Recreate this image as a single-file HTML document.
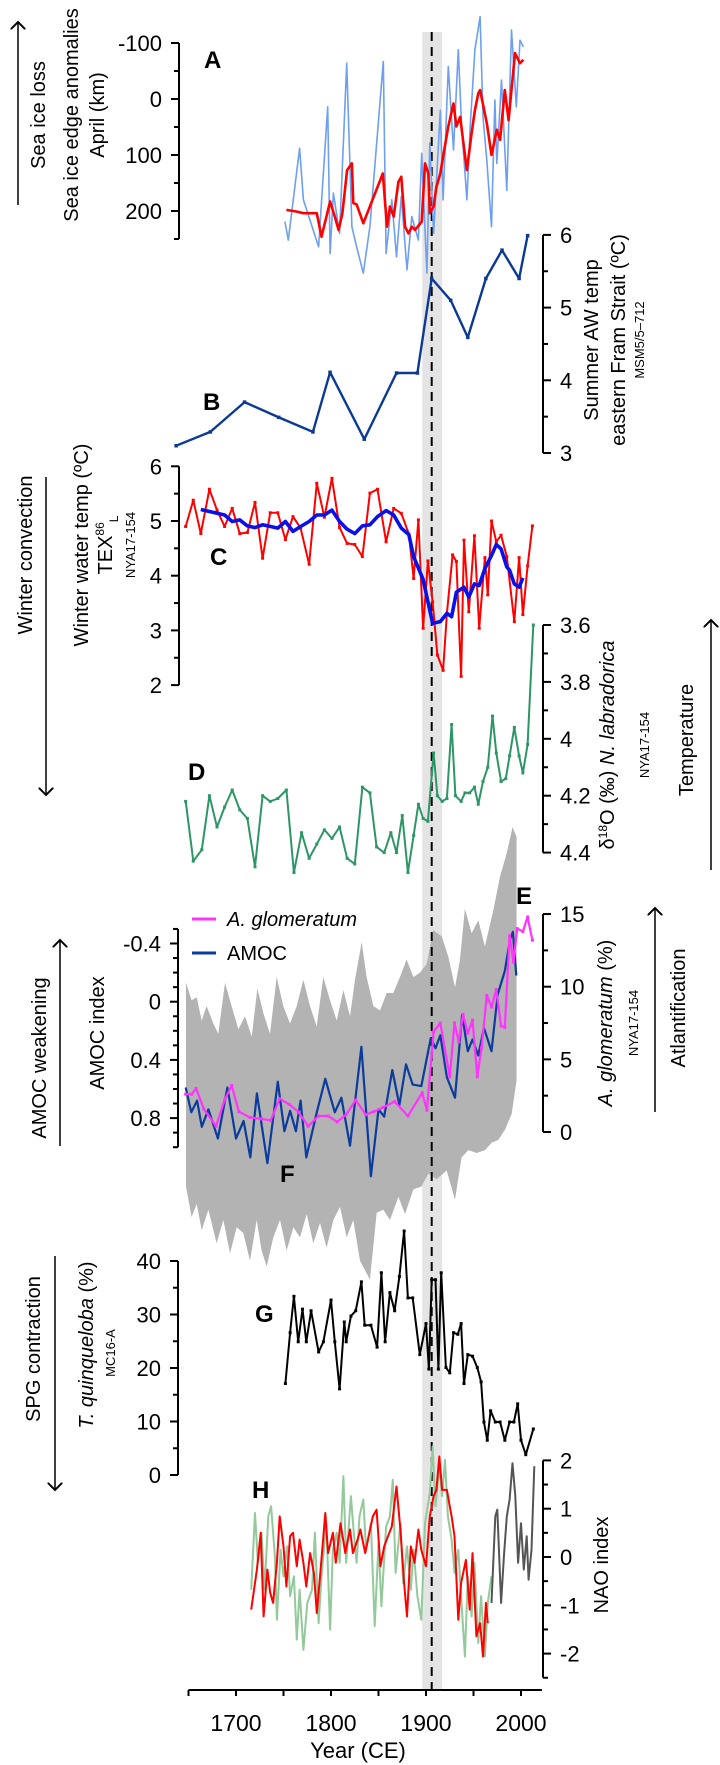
<!DOCTYPE html>
<html><head><meta charset="utf-8"><style>
html,body{margin:0;padding:0;background:#fff;}
svg{display:block;font-family:"Liberation Sans",Arial,sans-serif;}
</style></head><body>
<div style="position:relative;width:720px;height:1765px">
<svg id="chart" width="720" height="1765" viewBox="0 0 720 1765" xmlns="http://www.w3.org/2000/svg" style="position:absolute;left:0;top:0">
<rect x="0" y="0" width="720" height="1765" fill="#fff"/>
</svg>
<script>
// ---- Data arrays ----
const xTicks = [1700, 1800, 1900, 2000];
const aBlueYears = [1751.5,1755,1767,1771,1787,1796.5,1799,1802.5,1809,1816.5,1822,1827,1834,1841,1855,1858,1864,1869,1874,1880,1885,1892,1895.5,1901,1904,1908,1915,1918,1923.5,1929,1934,1937.5,1943,1946.5,1951.5,1957,1960,1964,1969,1972.5,1974.5,1979.5,1985,1990,1995,1999,2002.5];
const aBlueVals = [219,252,88,180,264,14,276,168,240,-64,228,264,311,228,-67,276,180,282,174,305,210,252,97,311,79,240,20,180,-58,91,-88,49,180,49,-88,-147,32,109,228,2,115,-34,163,-123,14,-105,-93];
const aRedYears = [1753,1764,1771,1785,1790,1799,1804,1808,1812,1817,1822,1823.5,1827,1834,1854.5,1859,1862,1866,1871,1874,1878,1881.5,1885,1888.5,1895.5,1899,1902.5,1904,1908,1911,1915,1918,1923.5,1929,1932,1936,1939,1943,1948,1951.5,1955,1957,1964,1969,1974.5,1978,1983,1987,1993.7,1999,2002.5];
const aRedVals = [198,201,204,204,246,183,210,234,204,127,115,186,188,222,133,228,192,210,148,139,228,240,228,234,219,115,133,204,192,157,133,103,49,8,49,32,73,127,61,20,-10,-16,43,100,55,73,-16,38,-82,-64,-70];
const bYears = [1637,1673,1709,1745,1781,1799,1835,1869,1891,1906,1926,1944,1963,1980,1998,2007];
const bVals = [3.10,3.29,3.70,3.49,3.29,4.11,3.19,4.10,4.10,5.40,5.10,4.59,5.40,5.79,5.40,5.99];
const cRedYears = [1647,1655,1663,1672,1680,1688,1696,1704,1712,1720,1728,1736,1744,1752,1760,1768,1777,1785,1793,1801,1809,1817,1825,1833,1841,1849,1858,1866,1874,1882,1887,1892,1897,1902,1907,1912,1918,1922,1928,1932,1937,1940,1945,1951,1956,1962,1965,1969,1974,1979,1985,1993,1998,2002,2007,2012];
const cRedVals = [4.90,5.38,4.77,5.58,5.20,4.90,5.23,4.77,4.79,5.34,4.32,5.15,5.15,4.66,5.08,4.87,4.21,5.69,5.07,5.78,4.88,4.59,4.57,4.35,5.51,5.58,4.62,5.23,5.14,4.76,3.95,5.02,3.04,4.27,3.52,2.55,2.27,3.31,4.38,4.26,2.16,4.65,3.34,4.73,3.04,4.33,3.65,5.00,4.62,4.74,4.35,3.16,4.33,3.29,4.18,4.91];
const cBlueYears = [1663,1680,1688,1696,1704,1712,1720,1728,1744,1752,1760,1768,1777,1785,1793,1801,1809,1817,1825,1833,1841,1849,1858,1866,1874,1882,1887,1897,1907,1915,1922,1927,1932,1940,1945,1951,1956,1962,1969,1974,1979,1985,1988,1993,1998,2002];
const cBlueVals = [5.21,5.14,5.11,4.99,5.02,4.91,4.88,4.93,4.87,4.99,4.81,4.90,4.99,5.11,5.11,5.20,4.99,4.85,4.77,4.91,4.93,5.08,5.19,5.11,4.87,4.75,4.35,3.93,3.13,3.16,3.31,3.25,3.70,3.79,3.61,3.85,3.82,4.13,4.37,4.57,4.49,4.16,4.10,3.85,3.79,3.96];
const dYears = [1647,1655,1664,1672,1680,1688,1696,1704,1712,1720,1728,1736,1744,1753,1761,1769,1777,1785,1793,1801,1809,1817,1825,1833,1841,1848,1856,1863,1869,1875,1881,1887,1892,1897,1902,1908,1912,1917,1922,1927,1931,1937,1941,1946,1951,1955,1960,1965,1970,1974,1979,1984,1988,1993,1998,2002,2007,2013];
const dVals = [4.22,4.43,4.39,4.20,4.31,4.24,4.18,4.25,4.28,4.45,4.20,4.22,4.21,4.18,4.47,4.33,4.42,4.37,4.32,4.35,4.31,4.42,4.44,4.17,4.19,4.38,4.40,4.33,4.40,4.27,4.47,4.34,4.23,4.28,4.29,4.05,4.20,4.22,4.21,3.95,4.20,4.22,4.19,4.19,4.17,4.23,4.15,4.10,3.92,4.05,4.15,4.14,4.06,3.96,4.06,4.12,4.02,3.60];
const eYears = [1647,1653.5,1658,1666,1679,1688,1695.5,1703,1715,1727,1736.5,1746,1756,1765.5,1776,1787,1797,1806.5,1816,1826,1836.5,1845,1855,1867,1881,1896,1901,1908,1915,1925,1930,1934.5,1939,1944,1949,1954,1958.5,1964,1969,1974,1979,1983,1988,1992,1996,2002,2007,2012];
const eVals = [2.6,2.6,3.0,1.6,0.4,2.2,3.2,1.4,1.0,0.9,0.8,2.3,1.9,1.4,0.4,1.1,1.1,0.7,1.2,2.2,1.2,1.4,1.7,2.1,1.1,2.7,1.5,6.9,7.5,3.8,7.5,6.2,8.1,6.8,7.7,3.8,5.8,9.4,8.6,9.8,7.3,7.2,13.5,11.7,14.0,13.8,14.8,13.2];
const amocYears = [1647,1653,1659,1664,1671,1681,1691,1700,1708,1715,1722,1733,1744,1751,1757,1763,1768,1774,1785,1794,1804,1811,1820,1832,1842,1850,1856,1864.5,1872,1879,1886,1895,1905,1910,1915,1922,1930.5,1938,1944,1949,1955,1961,1969,1975.5,1983,1988.5,1991.5,1995];
const amocVals = [0.59,0.76,0.68,0.86,0.74,0.94,0.59,0.94,0.82,1.07,0.63,1.11,0.55,0.89,0.75,0.89,0.68,1.07,0.76,0.53,0.76,0.66,0.99,0.31,1.20,0.74,0.79,0.47,0.71,0.43,0.57,0.58,0.25,0.32,0.23,0.52,0.66,0.09,0.34,0.26,0.37,0.18,0.34,-0.05,-0.21,-0.43,-0.48,-0.18];
const envUpYears = [1647.4,1653.3,1658.6,1663.9,1669.1,1676.1,1681.4,1688.4,1695.4,1702.5,1709.5,1716.5,1722.5,1728.8,1735.8,1742.8,1749.8,1756.8,1763.9,1770.9,1777.9,1784.9,1791.9,1798.9,1806,1813,1820,1825.3,1832.3,1837.5,1844.6,1851.6,1858.6,1865.6,1872.6,1879.6,1886.7,1893.7,1900.7,1907.7,1916.5,1923.5,1930.5,1935.8,1941,1948,1955,1962,1970.9,1977.9,1984.9,1991.2,1995.4];
const envUpVals = [-0.13,-0.01,-0.03,0.13,0.03,0.15,0.22,-0.13,0.03,0.19,0.10,0.24,-0.09,0.08,0.22,-0.17,0.03,0.15,0.03,-0.15,0.03,0.17,-0.17,-0.01,0.13,-0.08,0.10,-0.15,-0.41,-0.17,0.03,0.06,-0.06,-0.06,-0.17,-0.29,-0.17,-0.20,-0.26,-0.49,-0.45,-0.31,-0.10,-0.29,-0.64,-0.47,-0.56,-0.38,-0.63,-0.86,-1.02,-1.20,-1.13];
const envLoYears = [1647.4,1653.3,1658.6,1663.9,1670.9,1679.6,1686.7,1693.7,1700.7,1707.7,1714.7,1721.8,1727,1732.3,1739.3,1746.3,1753.3,1760.4,1767.4,1774.4,1781.4,1788.4,1795.4,1802.5,1809.5,1816.5,1823.5,1830.5,1841,1848.1,1855.1,1862.1,1870.9,1877.9,1886.7,1895.4,1902.5,1911.2,1921.8,1930.5,1937.5,1944.6,1953.3,1962.1,1969.1,1976.1,1983.2,1990.2,1995.4];
const envLoVals = [1.27,1.48,1.39,1.57,1.43,1.66,1.50,1.73,1.55,1.59,1.78,1.50,1.71,1.82,1.62,1.50,1.71,1.55,1.62,1.46,1.66,1.52,1.69,1.50,1.41,1.62,1.50,1.78,1.91,1.45,1.43,1.50,1.34,1.46,1.29,1.27,1.18,1.22,1.16,1.36,1.07,1.02,1.04,1.02,0.97,0.95,0.88,0.77,0.54];
const gYears = [1752,1757,1761,1765.5,1770,1774,1779,1787,1792,1800,1804,1809,1814,1816,1821,1826,1832,1835.5,1842,1848.5,1853,1857,1862,1867,1872,1877,1881,1886,1893.5,1900,1903,1906,1910,1913,1916,1921,1925,1929,1933.5,1937,1940,1944,1949,1954,1958,1961,1964.5,1968,1973,1978,1983,1988,1992.5,1996.5,2000,2005,2013];
const gVals = [17.1,26.6,33.4,24.9,31.0,24.9,30.7,23.0,24.9,32.7,24.9,16.1,28.6,24.9,29.7,30.7,36.1,28.0,28.0,23.9,37.8,24.9,34.1,30.7,37.1,45.6,33.1,33.1,22.5,28.3,19.8,36.5,36.5,19.8,37.8,20.1,19.1,26.6,26.3,28.3,17.1,22.5,22.2,20.1,17.4,9.9,6.5,12.0,9.9,9.9,6.5,9.9,9.9,13.3,6.5,3.8,8.6];
const hGreenYears = [1716,1720,1723,1727,1730,1734,1737,1741,1743,1747,1750,1754,1757,1761,1764,1767,1771,1775,1780,1783,1787,1790,1795,1799,1802,1806,1809,1813,1816,1821,1824,1827,1830,1834,1837,1842,1846,1850,1853,1858,1862,1865,1868,1873,1876,1880,1884,1887,1891,1895,1899,1904,1907,1910,1914,1917,1920,1923,1927,1930,1934,1937,1941,1944,1948,1951,1955,1958,1962,1965,1969];
const hGreenVals = [-0.68,0.91,-0.12,0.50,-0.68,0.84,1.05,0.01,-1.30,0.15,-0.40,0.22,-0.81,-0.40,-1.71,-0.68,-1.92,-0.95,-0.68,0.50,-1.37,-0.40,0.70,-1.50,0.15,0.50,-0.12,1.67,-0.12,1.26,0.50,-0.12,0.84,1.19,0.15,0.70,-1.43,0.29,-1.02,0.63,0.84,1.60,-0.33,0.70,-0.54,0.22,-0.68,0.15,-0.81,-1.30,0.70,1.32,2.29,1.05,1.88,1.26,2.01,0.84,0.36,-0.33,0.15,-0.81,-2.06,-0.40,-1.23,-0.12,-1.78,-0.81,-2.06,-0.95,-0.40];
const hRedYears = [1716,1722,1726,1729,1733,1736,1739,1743,1746,1750,1753,1757,1760,1764,1767,1771,1774,1778,1782,1785,1789,1794,1797,1802,1805,1810,1815,1820,1823,1828,1831,1836,1839,1844,1848,1852,1856,1860,1864,1869,1873,1877,1880,1884,1888,1892,1895,1900,1904,1908,1911,1914,1917,1922,1927,1930,1934,1937,1942,1946,1949,1953,1957,1960,1963,1965];
const hRedVals = [-1.09,-0.26,0.50,-1.23,-0.26,-0.74,-0.95,-0.12,0.84,0.22,-0.61,0.43,0.50,-0.19,0.36,-0.12,-0.61,0.08,-0.33,-1.16,-0.26,0.91,0.08,0.50,-0.12,0.70,0.08,0.57,0.08,0.36,0.57,0.08,0.36,0.84,0.98,-0.19,0.22,0.43,0.63,1.46,0.57,-0.54,-1.23,0.22,-0.12,0.57,0.15,-0.19,0.84,1.26,1.39,2.08,1.39,1.39,0.84,0.43,-1.30,-0.54,-0.06,-1.09,0.08,-1.64,-1.37,-2.06,-0.95,-1.37];
const hGreyYears = [1969,1973,1975,1979,1982,1985,1988,1991,1994,1997,2000,2003,2006,2008,2011,2014];
const hGreyVals = [-0.95,0.84,0.98,-0.95,0.01,0.84,1.19,1.94,1.26,-0.12,0.70,-0.26,0.43,-0.47,0.15,1.88];

// ---- Scales ----
const X = yr => 236 + (yr - 1700) * 0.95;
const yA = v => 99 + v * 0.56;
const yB = v => 453 - (v - 3) * 72.7;
const yC = v => 521 - (v - 5) * 54.7;
const yD = v => 625 + (v - 3.6) * 284.5;
const yE = v => 1132 - v * 14.53;
const yF = v => 1001.7 + v * 145.5;
const yG = v => 1475 - v * 5.35;
const yH = v => 1557 - v * 48.3;

const NS = 'http://www.w3.org/2000/svg';
const svg = document.getElementById('chart');
function mk(tag, attrs, parent) {
  const el = document.createElementNS(NS, tag);
  for (const k in attrs) el.setAttribute(k, attrs[k]);
  (parent || svg).appendChild(el);
  return el;
}
function pts(years, vals, ys) { return years.map((y, i) => X(y).toFixed(1) + ',' + ys(vals[i]).toFixed(1)).join(' '); }

const band = mk('rect', {x: X(1896), y: 32, width: X(1917) - X(1896), height: 1658, fill: '#e4e4e4'});



const loRev = envLoYears.map((y, i) => X(y).toFixed(1) + ',' + yF(envLoVals[i]).toFixed(1)).reverse().join(' ');
const env = mk('polygon', {points: pts(envUpYears, envUpVals, yF) + ' ' + loRev, fill: '#b3b3b3'});



const dash = mk('line', {x1: X(1906), y1: 32, x2: X(1906), y2: 1690, stroke: '#000', 'stroke-width': 2, 'stroke-dasharray': '9,6'});



function series(years, vals, ys, color, w, name, marker) {
  const pl = mk('polyline', {points: pts(years, vals, ys), fill: 'none', stroke: color, 'stroke-width': w, 'stroke-linejoin': 'round'});
  
  
  if (marker) {
    years.forEach((yr, i) => {
      const c = mk('rect', {x: X(yr) - marker / 2, y: ys(vals[i]) - marker / 2, width: marker, height: marker, fill: color});
      
      
    });
  }
}
series(aBlueYears, aBlueVals, yA, '#6e9ff0', 1.6, 'sea-ice-annual-line');
series(aRedYears, aRedVals, yA, '#ff0000', 2.6, 'sea-ice-smoothed-line');
series(bYears, bVals, yB, '#0b3a94', 2.4, 'aw-temp-line', 3.5);
series(cRedYears, cRedVals, yC, '#ff0000', 2, 'winter-temp-line', 3);
series(cBlueYears, cBlueVals, yC, '#0a10e8', 3.6, 'winter-temp-smoothed-line');
series(dYears, dVals, yD, '#2e9566', 2, 'd18o-line', 3);
series(amocYears, amocVals, yF, '#0b3c9c', 2.2, 'amoc-line');
series(eYears, eVals, yE, '#ff33ff', 2.2, 'a-glomeratum-line', 3);
series(gYears, gVals, yG, '#000', 2, 't-quinqueloba-line', 3);
series(hGreenYears, hGreenVals, yH, '#93c99b', 2, 'nao-green-line');
series(hRedYears, hRedVals, yH, '#ff0000', 2, 'nao-red-line');
series(hGreyYears, hGreyVals, yH, '#555', 2, 'nao-grey-line');

function vAxis(x, ys, v0, v1, major, minor, side, name, fmt) {
  const g = mk('g', {});
  
  
  mk('line', {x1: x, y1: ys(v0), x2: x, y2: ys(v1), stroke: '#000', 'stroke-width': 2}, g);
  const d = side === 'left' ? -1 : 1;
  const n = Math.round(Math.abs(v1 - v0) / minor);
  const lo = Math.min(v0, v1);
  for (let i = 0; i <= n; i++) {
    const v = +(lo + i * minor).toFixed(4);
    const isMaj = major.some(m => Math.abs(m - v) < 1e-6);
    mk('line', {x1: x, y1: ys(v), x2: x + d * (isMaj ? 8 : 5), y2: ys(v), stroke: '#000', 'stroke-width': 2}, g);
  }
  major.forEach(m => {
    const t = mk('text', {x: x + d * 17, y: ys(m) + 8, 'font-size': 22, 'text-anchor': side === 'left' ? 'end' : 'start', fill: '#000'}, g);
    t.textContent = fmt ? fmt(m) : String(m);
  });
}
vAxis(179, yA, -100, 250, [-100, 0, 100, 200], 50, 'left', 'axis-a-sea-ice');
vAxis(543, yB, 3, 6, [3, 4, 5, 6], 0.5, 'right', 'axis-b-aw-temp');
vAxis(179, yC, 2, 6, [2, 3, 4, 5, 6], 0.5, 'left', 'axis-c-winter-temp');
vAxis(543, yD, 3.6, 4.4, [3.6, 3.8, 4.0, 4.2, 4.4], 0.1, 'right', 'axis-d-d18o', v => v === 4 ? '4' : v.toFixed(1));
vAxis(543, yE, 0, 15, [0, 5, 10, 15], 2.5, 'right', 'axis-e-glomeratum');
vAxis(178, yF, -0.5, 1.0, [-0.4, 0, 0.4, 0.8], 0.1, 'left', 'axis-f-amoc', v => v === 0 ? '0' : v.toFixed(1));
vAxis(178, yG, 0, 40, [0, 10, 20, 30, 40], 5, 'left', 'axis-g-quinqueloba');
vAxis(543, yH, -2.5, 2, [-2, -1, 0, 1, 2], 0.5, 'right', 'axis-h-nao');

const xg = mk('g', {});


mk('line', {x1: X(1650), y1: 1690, x2: X(2022), y2: 1690, stroke: '#000', 'stroke-width': 2}, xg);
[1650, 1700, 1750, 1800, 1850, 1900, 1950, 2000].forEach(yr => {
  mk('line', {x1: X(yr), y1: 1690, x2: X(yr), y2: 1696, stroke: '#000', 'stroke-width': 2}, xg);
});
xTicks.forEach(yr => {
  const t = mk('text', {x: X(yr), y: 1731, 'font-size': 23, 'text-anchor': 'middle'}, xg);
  t.textContent = String(yr);
});
</script>
<svg width="720" height="1765" style="position:absolute;left:0;top:0" font-family="Liberation Sans, Arial, sans-serif">
<defs><marker id="ah" markerWidth="10" markerHeight="10" refX="5" refY="5" orient="auto"><path d="M0,0 L5,5 L0,10" fill="none" stroke="#000" stroke-width="1.3"/></marker></defs>
<text x="358" y="1758" font-size="22" text-anchor="middle">Year (CE)</text>
<text x="204" y="68" font-size="24" font-weight="bold">A</text>
<text x="203" y="410" font-size="24" font-weight="bold">B</text>
<text x="210" y="565" font-size="24" font-weight="bold">C</text>
<text x="188" y="780" font-size="24" font-weight="bold">D</text>
<text x="516" y="904" font-size="24" font-weight="bold">E</text>
<text x="280" y="1182" font-size="24" font-weight="bold">F</text>
<text x="255" y="1322" font-size="24" font-weight="bold">G</text>
<text x="252" y="1498" font-size="24" font-weight="bold">H</text>
<line x1="18" y1="205" x2="18" y2="22" stroke="#000" stroke-width="1.5" marker-end="url(#ah)"/>
<text transform="translate(45,115) rotate(-90)" font-size="20" text-anchor="middle">Sea ice loss</text>
<text transform="translate(78,115) rotate(-90)" font-size="20" text-anchor="middle">Sea ice edge anomalies</text>
<text transform="translate(104,115) rotate(-90)" font-size="20" text-anchor="middle">April (km)</text>
<text transform="translate(598,340) rotate(-90)" font-size="20" text-anchor="middle">Summer AW temp</text>
<text transform="translate(625,340) rotate(-90)" font-size="20" text-anchor="middle">eastern Fram Strait (ºC)</text>
<text transform="translate(644,340) rotate(-90)" font-size="13" text-anchor="middle">MSM5/5–712</text>
<line x1="46" y1="477" x2="46" y2="795" stroke="#000" stroke-width="1.5" marker-end="url(#ah)"/>
<text transform="translate(32,555) rotate(-90)" font-size="20" text-anchor="middle">Winter convection</text>
<text transform="translate(88,545) rotate(-90)" font-size="20" text-anchor="middle">Winter water temp (ºC)</text>
<text transform="translate(112,545) rotate(-90)" font-size="20" text-anchor="middle">TEX<tspan font-size="12" dy="-8">86</tspan><tspan font-size="12" dy="14">L</tspan></text>
<text transform="translate(135,545) rotate(-90)" font-size="13" text-anchor="middle">NYA17-154</text>
<text transform="translate(614,745) rotate(-90)" font-size="20" text-anchor="middle">δ<tspan font-size="12" dy="-7">18</tspan><tspan dy="7">O (‰) </tspan><tspan font-style="italic">N. labradorica</tspan></text>
<text transform="translate(649,745) rotate(-90)" font-size="13" text-anchor="middle">NYA17-154</text>
<line x1="711" y1="870" x2="711" y2="620" stroke="#000" stroke-width="1.5" marker-end="url(#ah)"/>
<text transform="translate(693,740) rotate(-90)" font-size="20" text-anchor="middle">Temperature</text>
<line x1="60" y1="1146" x2="60" y2="940" stroke="#000" stroke-width="1.5" marker-end="url(#ah)"/>
<text transform="translate(46,1058) rotate(-90)" font-size="20" text-anchor="middle">AMOC weakening</text>
<text transform="translate(104,1033) rotate(-90)" font-size="20" text-anchor="middle">AMOC index</text>
<text transform="translate(612,1023) rotate(-90)" font-size="20" text-anchor="middle"><tspan font-style="italic">A. glomeratum</tspan> (%)</text>
<text transform="translate(638,1023) rotate(-90)" font-size="13" text-anchor="middle">NYA17-154</text>
<line x1="655" y1="1112" x2="655" y2="908" stroke="#000" stroke-width="1.5" marker-end="url(#ah)"/>
<text transform="translate(685,1008) rotate(-90)" font-size="20" text-anchor="middle">Atlantification</text>
<g>
<line x1="192" y1="919" x2="216" y2="919" stroke="#ff33ff" stroke-width="3"/>
<text x="227" y="926" font-size="20" font-style="italic">A. glomeratum</text>
<line x1="192" y1="953" x2="216" y2="953" stroke="#0b3c9c" stroke-width="3"/>
<text x="227" y="960" font-size="20">AMOC</text>
</g>
<line x1="55" y1="1256" x2="55" y2="1490" stroke="#000" stroke-width="1.5" marker-end="url(#ah)"/>
<text transform="translate(40,1349) rotate(-90)" font-size="20" text-anchor="middle">SPG contraction</text>
<text transform="translate(93,1345) rotate(-90)" font-size="20" text-anchor="middle"><tspan font-style="italic">T. quinqueloba</tspan> (%)</text>
<text transform="translate(115,1353) rotate(-90)" font-size="13" text-anchor="middle">MC16-A</text>
<text transform="translate(608,1565) rotate(-90)" font-size="20" text-anchor="middle">NAO index</text>
</svg>
</div>
</body></html>
